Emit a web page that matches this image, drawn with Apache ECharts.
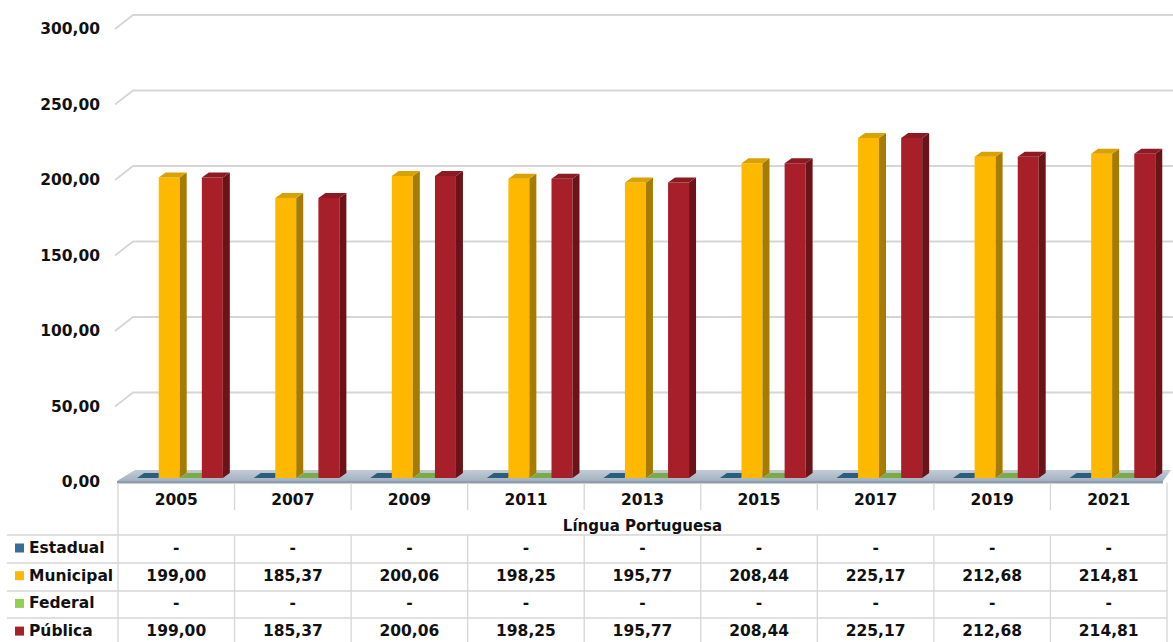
<!DOCTYPE html>
<html>
<head>
<meta charset="utf-8">
<script src="https://cdn.jsdelivr.net/npm/echarts@6/dist/echarts.min.js"></script>
<style>
html,body{margin:0;padding:0;background:#fff;}
#chart{width:1173px;height:642px;}
</style>
</head>
<body>
<div id="chart"></div>
<script>
// ---- data ----
const categories = ['2005', '2007', '2009', '2011', '2013', '2015', '2017', '2019', '2021'];
const seriesNames = ['Estadual', 'Municipal', 'Federal', 'Pública'];
const estadual  = [0, 0, 0, 0, 0, 0, 0, 0, 0];
const municipal = [199.00, 185.37, 200.06, 198.25, 195.77, 208.44, 225.17, 212.68, 214.81];
const federal   = [0, 0, 0, 0, 0, 0, 0, 0, 0];
const publica   = [199.00, 185.37, 200.06, 198.25, 195.77, 208.44, 225.17, 212.68, 214.81];
const yTicks = [0, 50, 100, 150, 200, 250, 300];
const axisName = 'Língua Portuguesa';

// ---- styles ----
const seriesData = [estadual, municipal, federal, publica];
const palette = [
  { legend: '#376d96', front: '#2f6d8f', top: '#2a5e7c', side: '#1f4a63' },
  { legend: '#ffb800', front: '#ffb800', top: '#d9a200', side: '#a67c00' },
  { legend: '#92d050', front: '#92d050', top: '#7aab45', side: '#5d8a33' },
  { legend: '#a61f29', front: '#a61f29', top: '#8b1a22', side: '#6b1319' }
];
const FONT = 'DejaVu Sans';
const FS = 15.5;
const BACK = [18, -14];     // back-wall offset
const SHIFT = [4, -4];      // bar plane offset
const BD = [7, -5];         // bar depth
const fmt = v => (v === 0 || v == null) ? '-' : v.toFixed(2).replace('.', ',');

function barRender(k) {
  const c = palette[k];
  return function (params, api) {
    const ci = api.value(0), v = api.value(1) || 0;
    const base = api.coord([ci, 0]);
    const top = api.coord([ci, v]);
    const band = api.size([1, 0])[0];
    const w = band * 0.18, pitch = band * 0.185;
    const x0 = base[0] + (k - 2) * pitch + SHIFT[0];
    const yb = base[1] + SHIFT[1];
    const yt = top[1] + SHIFT[1];
    const ch = [];
    if (yb - yt > 0.5) {
      ch.push({ type: 'rect', shape: { x: x0, y: yt, width: w, height: yb - yt }, style: { fill: c.front } });
      ch.push({ type: 'polygon', shape: { points: [[x0 + w, yt], [x0 + w + BD[0], yt + BD[1]], [x0 + w + BD[0], yb + BD[1]], [x0 + w, yb]] }, style: { fill: c.side } });
    }
    ch.push({ type: 'polygon', shape: { points: [[x0, yt], [x0 + BD[0], yt + BD[1]], [x0 + w + BD[0], yt + BD[1]], [x0 + w, yt]] }, style: { fill: c.top } });
    return { type: 'group', children: ch };
  };
}

function wallRender(params, api) {
  const cs = params.coordSys;
  const xl = cs.x, xr = cs.x + cs.width;
  const ch = [];
  const y0 = api.coord([0, 0])[1];
  // floor
  ch.push({ type: 'polygon', shape: { points: [[xl - 1, y0 - 1], [xl + BACK[0] - 1, y0 - 12], [xr + 4, y0 - 12], [xr - 4, y0 - 1]] },
    style: { fill: { type: 'linear', x: 0, y: 0, x2: 0, y2: 1, colorStops: [{ offset: 0, color: '#c2ccd7' }, { offset: 1, color: '#a3b1bf' }] } } });
  ch.push({ type: 'rect', shape: { x: xl - 1, y: y0 - 1, width: xr - xl - 3, height: 2.5 }, style: { fill: '#8e9dac' } });
  yTicks.forEach(t => {
    if (t === 0) return;
    const y = api.coord([0, t])[1];
    ch.push({ type: 'polyline', shape: { points: [[xl - 3, y], [xl - 3 + BACK[0], y + BACK[1]], [xr + 20, y + BACK[1]]] },
      style: { stroke: '#d6d6d6', lineWidth: 1.8, fill: null } });
  });
  return { type: 'group', children: ch, silent: true };
}

function tableRender(params, api) {
  const cs = params.coordSys;
  const xl = cs.x, xr = cs.x + cs.width;
  const ci = api.value(0);
  const band = api.size([1, 0])[0];
  const cx = api.coord([ci, 0])[0];
  const y0 = api.coord([0, 0])[1];
  const lineStyle = { stroke: '#d6d6d6', lineWidth: 1.3 };
  const ch = [];
  const rowY = [66, 94, 121, 149];
  seriesData.forEach((arr, r) => {
    ch.push({ type: 'text', x: cx, y: y0 + rowY[r],
      style: { text: fmt(arr[ci]), fill: '#111', font: 'bold ' + FS + 'px "' + FONT + '"', align: 'center', verticalAlign: 'middle' } });
  });
  const xRight = cx + band / 2;
  if (ci < categories.length - 1) {
    ch.push({ type: 'line', shape: { x1: xRight, y1: y0 + 1, x2: xRight, y2: y0 + 28 }, style: lineStyle });
    ch.push({ type: 'line', shape: { x1: xRight, y1: y0 + 53, x2: xRight, y2: y0 + 170 }, style: lineStyle });
  }
  if (ci === 0) {
    [53, 81, 109, 136].forEach(d => {
      ch.push({ type: 'line', shape: { x1: 7, y1: y0 + d, x2: xr, y2: y0 + d }, style: lineStyle });
    });
    ch.push({ type: 'line', shape: { x1: xl, y1: y0 + 1, x2: xl, y2: y0 + 170 }, style: lineStyle });
    ch.push({ type: 'line', shape: { x1: xr, y1: y0 + 1, x2: xr, y2: y0 + 170 }, style: lineStyle });
  }
  return { type: 'group', children: ch, silent: true };
}

const chart = echarts.init(document.getElementById('chart'), null, { renderer: 'svg' });

const series = [
  { type: 'custom', name: '_walls', renderItem: wallRender, data: [[0, 0]], z: 1, silent: true, legendHoverLink: false, tooltip: { show: false } }
];
seriesNames.forEach((n, k) => {
  series.push({
    type: 'custom', name: n, renderItem: barRender(k), z: 2,
    itemStyle: { color: palette[k].legend },
    encode: { x: 0, y: 1 },
    data: categories.map((c, i) => [i, seriesData[k][i]])
  });
});
series.push({ type: 'custom', name: '_table', renderItem: tableRender, z: 3, silent: true,
  data: categories.map((c, i) => [i, 0]) });

chart.setOption({
  animation: false,
  textStyle: { fontFamily: FONT },
  grid: { left: 118, right: 6, top: 29, bottom: 160, containLabel: false },
  legend: {
    data: seriesNames, orient: 'vertical', left: 15, top: 539, padding: 0, height: 110,
    itemWidth: 9, itemHeight: 9, itemGap: 9.7, icon: 'rect',
    textStyle: { fontFamily: FONT, fontWeight: 'bold', fontSize: FS, color: '#111', lineHeight: 18 },
    selectedMode: false
  },
  xAxis: {
    type: 'category', data: categories,
    axisLine: { show: false }, axisTick: { show: false },
    axisLabel: { fontFamily: FONT, fontWeight: 'bold', fontSize: FS, color: '#111', margin: 10 },
    name: axisName, nameLocation: 'middle', nameGap: 36,
    nameTextStyle: { fontFamily: FONT, fontWeight: 'bold', fontSize: 15, color: '#111' }
  },
  yAxis: {
    type: 'value', min: 0, max: 300, interval: 50,
    axisLine: { show: false }, axisTick: { show: false }, splitLine: { show: false },
    axisLabel: { fontFamily: FONT, fontWeight: 'bold', fontSize: FS, color: '#111', margin: 18, formatter: v => fmt(v) === '-' ? '0,00' : fmt(v) }
  },
  series: series
});
</script>
</body>
</html>
